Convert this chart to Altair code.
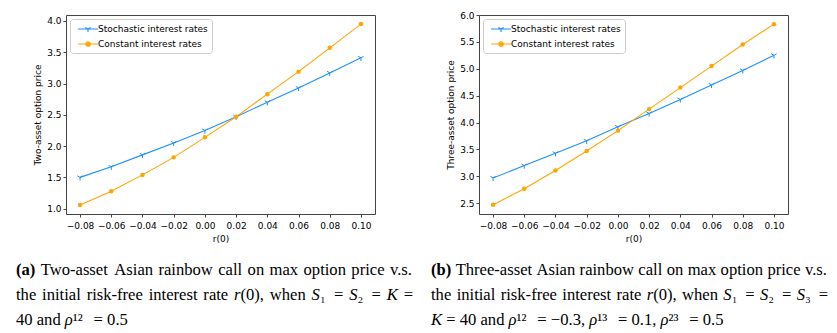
import altair as alt
import pandas as pd

# ---------------- data ----------------
r0 = [-0.08, -0.06, -0.04, -0.02, 0.00, 0.02, 0.04, 0.06, 0.08, 0.10]
two_stochastic = [1.50, 1.67, 1.86, 2.05, 2.25, 2.47, 2.70, 2.93, 3.17, 3.41]
two_constant = [1.06, 1.28, 1.54, 1.82, 2.14, 2.47, 2.83, 3.19, 3.57, 3.95]
three_stochastic = [2.97, 3.20, 3.43, 3.66, 3.92, 4.17, 4.43, 4.70, 4.97, 5.25]
three_constant = [2.47, 2.77, 3.11, 3.47, 3.85, 4.25, 4.65, 5.05, 5.45, 5.83]

series_names = ["Stochastic interest rates", "Constant interest rates"]
series_colors = ["#1e90ff", "#ffa500"]

x_ticks = [-0.08, -0.06, -0.04, -0.02, 0.00, 0.02, 0.04, 0.06, 0.08, 0.10]
y_ticks_two = [1.0, 1.5, 2.0, 2.5, 3.0, 3.5, 4.0]
y_ticks_three = [2.5, 3.0, 3.5, 4.0, 4.5, 5.0, 5.5, 6.0]

# caption text: #...# = bold, *...* = italic
caption_a = [
    "#(a)# Two-asset Asian rainbow call on max option price v.s.",
    "the initial risk-free interest rate *r*(0), when *S*\u2081 = *S*\u2082 = *K* =",
    "40 and *\u03c1*\u00b9\u00b2 = 0.5",
]
caption_b = [
    "#(b)# Three-asset Asian rainbow call on max option price v.s.",
    "the initial risk-free interest rate *r*(0), when *S*\u2081 = *S*\u2082 = *S*\u2083 =",
    "*K* = 40 and *\u03c1*\u00b9\u00b2 = \u22120.3, *\u03c1*\u00b9\u00b3 = 0.1, *\u03c1*\u00b2\u00b3 = 0.5",
]

# ---------------- styling ----------------
W, H = 309, 199
TRI = "M0,0L0,1M0,0L-0.866,-0.5M0,0L0.866,-0.5"
LEG_TRI = "M-0.4,0L3.6,0M1.6,0L1.6,0.6M1.6,0L1.08,-0.3M1.6,0L2.12,-0.3"
LEG_DOT = ("M-0.4,0L3.6,0M1.15,0A0.45,0.45,0,1,0,2.05,0A0.45,0.45,0,1,0,1.15,0"
           "M1.4,0A0.2,0.2,0,1,0,1.8,0A0.2,0.2,0,1,0,1.4,0")
FONT = "DejaVu Sans"
SERIF = "Liberation Serif"
CAP_SIZE = 16.6

# approximate Times/Liberation Serif advance widths (1/1000 em) for caption layout
_REG = {" ": 250, "(": 333, ")": 333, ",": 250, "-": 333, ".": 250, "=": 564, "\u2212": 564,
        "A": 722, "K": 722, "S": 556, "T": 611, "a": 444, "b": 500, "c": 444, "d": 500,
        "e": 444, "f": 333, "h": 500, "i": 278, "k": 500, "l": 278, "m": 778, "n": 500,
        "o": 500, "p": 500, "r": 333, "s": 389, "t": 278, "v": 500, "w": 722, "x": 500,
        "\u03c1": 500}
_ITA = {"r": 389, "S": 500, "K": 667, "\u03c1": 480}
_BLD = {"(": 333, ")": 333, "a": 500, "b": 556}


def _w(text, style):
    tab = _BLD if style == "b" else (_ITA if style == "i" else _REG)
    tot = 0
    for ch in text:
        if ch.isdigit():
            tot += 500
        elif ch in "\u00b9\u00b2\u00b3\u2081\u2082\u2083":
            tot += 70
        else:
            tot += tab.get(ch, _REG.get(ch, 500))
    return tot * CAP_SIZE / 1000.0


def _parse_word(word):
    segs, cur, style = [], "", "n"
    for ch in word:
        if ch in "*#":
            if cur:
                segs.append((cur, style))
            cur = ""
            mark_style = "i" if ch == "*" else "b"
            style = "n" if style == mark_style else mark_style
        else:
            cur += ch
    if cur:
        segs.append((cur, style))
    return segs


def caption_layers(lines, x0, x_end, justify):
    out = []
    ys = [255, 280, 305]
    for li, line in enumerate(lines):
        words = [_parse_word(w) for w in line.split(" ")]
        widths = [sum(_w(t, s) for t, s in w) for w in words]
        space = _w(" ", "n")
        natural = sum(widths) + space * (len(words) - 1)
        extra = 0.0
        if justify[li] and len(words) > 1:
            extra = max(0.0, (x_end - x0 - natural) / (len(words) - 1))
        xc = x0
        for w, ww in zip(words, widths):
            xs = xc
            for t, s in w:
                out.append(alt.Chart(pd.DataFrame({"t": [t]})).mark_text(
                    font=SERIF, fontSize=CAP_SIZE, align="left", baseline="middle", color="black",
                    fontWeight="bold" if s == "b" else "normal",
                    fontStyle="italic" if s == "i" else "normal",
                ).encode(text="t:N", x=alt.value(round(xs, 2)), y=alt.value(ys[li])))
                xs += _w(t, s)
            xc += ww + space + extra
    return out


def make_legend():
    return alt.Legend(
        title=None, orient="top-left", offset=4, padding=4,
        symbolSize=100, labelOffset=12, rowPadding=3, symbolStrokeWidth=1.2,
        labelFont=FONT, labelFontSize=9, labelColor="black",
        strokeColor="#cccccc", cornerRadius=3, fillColor="white",
    )


def panel(stoch, const, y_title, y_domain, y_ticks, cap_lines, cap_x, cap_end):
    df = pd.DataFrame({
        "r0": r0 + r0,
        "price": stoch + const,
        "series": [series_names[0]] * len(r0) + [series_names[1]] * len(r0),
    })
    base = alt.Chart(df)
    x = alt.X("r0:Q",
              scale=alt.Scale(domain=[-0.089, 0.109], nice=False, zero=False),
              axis=alt.Axis(values=x_ticks, format=".2f", title="r(0)",
                            labelPadding=4, titlePadding=4))
    y = alt.Y("price:Q",
              scale=alt.Scale(domain=y_domain, nice=False, zero=False),
              axis=alt.Axis(values=y_ticks, format=".1f", title=y_title,
                            labelPadding=2, titlePadding=4))
    sto = base.transform_filter(alt.datum.series == series_names[0])
    con = base.transform_filter(alt.datum.series == series_names[1])
    line_s = sto.mark_line(strokeWidth=1.1, color=series_colors[0]).encode(x=x, y=y)
    line_c = con.mark_line(strokeWidth=1.1, color=series_colors[1]).encode(x=x, y=y)
    pts_s = sto.mark_point(shape=TRI, filled=False, size=40, strokeWidth=1, opacity=1,
                           color=series_colors[0]).encode(x=x, y=y)
    pts_c = con.mark_point(shape="circle", filled=True, size=20, opacity=1,
                           color=series_colors[1]).encode(x=x, y=y)

    # legend-only layer: its points are moved outside the y domain and clipped away
    leg = base.transform_calculate(price="datum.price + 1000").mark_point(
        filled=False, strokeWidth=1.2, opacity=1, clip=True
    ).encode(
        x=x, y=y,
        color=alt.Color("series:N", scale=alt.Scale(domain=series_names, range=series_colors),
                        legend=make_legend()),
        shape=alt.Shape("series:N", scale=alt.Scale(domain=series_names,
                        range=[LEG_TRI, LEG_DOT]), legend=make_legend()),
    )

    layers = [line_s, line_c, pts_s, pts_c, leg]
    layers += caption_layers(cap_lines, cap_x, cap_end, [True, True, False])
    return alt.layer(*layers).properties(width=W, height=H)


left = panel(two_stochastic, two_constant, "Two-asset option price",
             [0.915, 4.095], y_ticks_two, caption_a, -50, 347)
right = panel(three_stochastic, three_constant, "Three-asset option price",
              [2.30, 6.0], y_ticks_three, caption_b, -48, 349)

chart = alt.hconcat(left, right, spacing=104, bounds="flush").resolve_scale(
    color="independent", shape="independent"
).resolve_legend(
    color="independent", shape="independent"
).properties(
    padding={"left": 7, "top": 2, "right": 0, "bottom": 0}
).configure_view(
    stroke="#444444", strokeWidth=1
).configure_axis(
    domain=False, grid=False, ticks=True, tickSize=3, tickColor="#444444",
    labelFont=FONT, labelFontSize=9, labelColor="black",
    titleFont=FONT, titleFontSize=9, titleFontWeight="normal", titleColor="black",
)

chart.save("out.html", embed_options={"renderer": "svg", "actions": False})
